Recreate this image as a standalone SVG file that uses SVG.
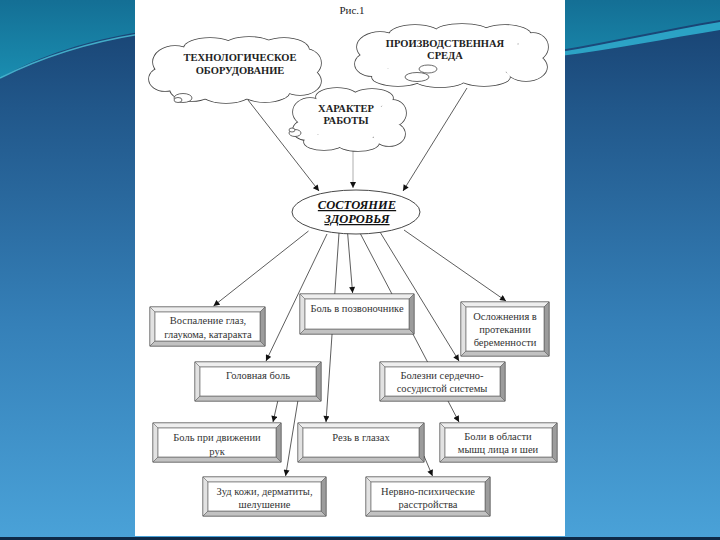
<svg xmlns="http://www.w3.org/2000/svg" xmlns:xlink="http://www.w3.org/1999/xlink" width="720" height="540" viewBox="0 0 720 540">
<defs>
<linearGradient id="bg" x1="0" y1="0" x2="0" y2="1">
<stop offset="0" stop-color="#173f6e"/>
<stop offset="0.2" stop-color="#21578a"/>
<stop offset="0.6" stop-color="#3580b8"/>
<stop offset="1" stop-color="#4aa2d8"/>
</linearGradient>
<linearGradient id="teal" x1="0" y1="0" x2="0" y2="1">
<stop offset="0" stop-color="#146f95"/>
<stop offset="1" stop-color="#1a8db0"/>
</linearGradient>
<marker id="ah" viewBox="0 0 10 10" refX="10" refY="5" markerWidth="7" markerHeight="6" orient="auto" markerUnits="userSpaceOnUse">
<path d="M0,0 L10,5 L0,10 z" fill="#111"/>
</marker>
<g id="c1">
<ellipse cx="175" cy="62" rx="22" ry="16"/>
<ellipse cx="165" cy="79" rx="16" ry="12"/>
<ellipse cx="192" cy="89" rx="22" ry="12"/>
<ellipse cx="226" cy="93" rx="25" ry="10"/>
<ellipse cx="265" cy="91" rx="25" ry="11"/>
<ellipse cx="300" cy="81" rx="21" ry="14"/>
<ellipse cx="305" cy="63" rx="16" ry="14"/>
<ellipse cx="284" cy="50" rx="25" ry="12"/>
<ellipse cx="249" cy="46" rx="25" ry="9"/>
<ellipse cx="210" cy="48" rx="26" ry="10"/>
<ellipse cx="236" cy="70" rx="70" ry="24"/>
</g>
<g id="c2">
<ellipse cx="380" cy="47" rx="23" ry="15"/>
<ellipse cx="372" cy="64" rx="17" ry="12"/>
<ellipse cx="398" cy="77" rx="26" ry="9"/>
<ellipse cx="440" cy="79" rx="26" ry="8"/>
<ellipse cx="484" cy="77" rx="26" ry="9"/>
<ellipse cx="526" cy="67" rx="21" ry="14"/>
<ellipse cx="533" cy="47" rx="15" ry="14"/>
<ellipse cx="505" cy="35" rx="26" ry="10"/>
<ellipse cx="462" cy="31" rx="26" ry="7"/>
<ellipse cx="415" cy="35" rx="26" ry="10"/>
<ellipse cx="452" cy="56" rx="78" ry="22"/>
</g>
<g id="c3">
<ellipse cx="310" cy="112" rx="17" ry="14"/>
<ellipse cx="306" cy="130" rx="13" ry="10"/>
<ellipse cx="324" cy="142" rx="20" ry="8"/>
<ellipse cx="358" cy="143" rx="21" ry="8"/>
<ellipse cx="389" cy="134" rx="16" ry="12"/>
<ellipse cx="393" cy="113" rx="13" ry="13"/>
<ellipse cx="372" cy="98" rx="21" ry="9"/>
<ellipse cx="337" cy="97" rx="21" ry="9"/>
<ellipse cx="349" cy="120" rx="44" ry="20"/>
</g>
</defs>
<style>
.cl{font-family:"Liberation Serif",serif;font-weight:bold;font-size:10.5px;text-anchor:middle;fill:#222}
.bt{font-family:"Liberation Serif",serif;font-size:10.5px;text-anchor:middle;fill:#333}
.conn line{stroke:#333;stroke-width:0.8;marker-end:url(#ah)}
.bx{fill:#d0d0d0;stroke:#333;stroke-width:0.8}
.tp{fill:#eeeeee;stroke:#666;stroke-width:0.5}
.lf{fill:#e2e2e2;stroke:#666;stroke-width:0.5}
.rt{fill:#9c9c9c;stroke:#555;stroke-width:0.5}
.bm{fill:#c2c2c2;stroke:#555;stroke-width:0.5}
.in{fill:#fff;stroke:#555;stroke-width:0.6}
.puff{fill:#fff;stroke:#444;stroke-width:0.8}
</style>

<g id="background">
<rect x="0" y="0" width="720" height="540" fill="url(#bg)"/>
<path d="M0,0 H720 V20 C670,28 610,42 560,50 L140,32 C90,40 40,55 0,78 Z" fill="url(#teal)"/>
<path d="M0,78 C40,58 90,42 140,34" fill="none" stroke="#4cc6dc" stroke-width="1.5" opacity="0.8"/>
<path d="M560,52 C610,44 670,30 720,22 L720,30 C670,38 610,50 560,56 Z" fill="#2fb3d2" opacity="0.85"/>
<rect x="0" y="537" width="720" height="3" fill="#0e2a48"/>
<rect x="135" y="0" width="430" height="536" fill="#ffffff"/>
</g>

<text x="352" y="14" style="font-family:'Liberation Serif',serif;font-size:11px;text-anchor:middle;fill:#222">Рис.1</text>

<g id="connectors" class="conn">
<line x1="248" y1="100" x2="319" y2="191"/>
<line x1="467" y1="88" x2="403" y2="191"/>
<line x1="353" y1="151" x2="353" y2="188" style="stroke:#999"/>
<line x1="308.5" y1="231" x2="213.5" y2="306"/>
<line x1="327" y1="234" x2="266" y2="361"/>
<line x1="339" y1="233" x2="326" y2="422"/>
<line x1="347.6" y1="233" x2="352.6" y2="293"/>
<line x1="360" y1="233" x2="459" y2="422"/>
<line x1="380" y1="232" x2="459" y2="361"/>
<line x1="404" y1="230" x2="506" y2="301"/>
<line x1="278" y1="400" x2="273" y2="422"/>
<line x1="298" y1="400" x2="285.6" y2="476"/>
<line x1="424" y1="456" x2="432.5" y2="476"/>
</g>

<g id="n-tech">
<use xlink:href="#c1" fill="#fff" stroke="#444" stroke-width="1.6"/>
<use xlink:href="#c1" fill="#fff" stroke="none"/>
<ellipse class="puff" cx="183" cy="98" rx="9" ry="4.5"/>
<ellipse class="puff" cx="178" cy="100" rx="4" ry="2.5"/>
<text class="cl" x="240" y="61">ТЕХНОЛОГИЧЕСКОЕ</text>
<text class="cl" x="240" y="74">ОБОРУДОВАНИЕ</text>
</g>

<g id="n-sreda">
<use xlink:href="#c2" fill="#fff" stroke="#444" stroke-width="1.6"/>
<use xlink:href="#c2" fill="#fff" stroke="none"/>
<ellipse class="puff" cx="428" cy="69" rx="9" ry="4"/>
<ellipse class="puff" cx="417" cy="77" rx="12" ry="4.5"/>
<text class="cl" x="445" y="47">ПРОИЗВОДСТВЕННАЯ</text>
<text class="cl" x="445" y="59">СРЕДА</text>
</g>

<g id="n-harakter">
<use xlink:href="#c3" fill="#fff" stroke="#444" stroke-width="1.6"/>
<use xlink:href="#c3" fill="#fff" stroke="none"/>
<ellipse class="puff" cx="295" cy="133" rx="6" ry="3.5"/>
<ellipse class="puff" cx="292" cy="130" rx="3" ry="2"/>
<text class="cl" x="346" y="112">ХАРАКТЕР</text>
<text class="cl" x="346" y="124">РАБОТЫ</text>
</g>

<g id="n-zdorovie">
<ellipse cx="356" cy="212" rx="64" ry="22" fill="#fff" stroke="#333" stroke-width="0.9"/>
<text x="357" y="209" style="font-family:'Liberation Serif',serif;font-weight:bold;font-style:italic;font-size:12.5px;text-anchor:middle;fill:#111;text-decoration:underline">СОСТОЯНИЕ</text>
<text x="357" y="223" style="font-family:'Liberation Serif',serif;font-weight:bold;font-style:italic;font-size:12.5px;text-anchor:middle;fill:#111;text-decoration:underline">ЗДОРОВЬЯ</text>
</g>

<g id="n-vospalenie" transform="translate(150,307)">
<rect class="bx" width="115" height="39"/>
<polygon class="tp" points="0,0 115,0 110,5 5,5"/>
<polygon class="lf" points="0,0 5,5 5,34 0,39"/>
<polygon class="rt" points="115,0 115,39 110,34 110,5"/>
<polygon class="bm" points="0,39 115,39 110,34 5,34"/>
<rect class="in" x="5" y="5" width="105" height="29"/>
<text class="bt" x="58" y="17">Воспаление глаз,</text>
<text class="bt" x="58" y="31">глаукома, катаракта</text>
</g>

<g id="n-pozvonochnik" transform="translate(300,294)">
<rect class="bx" width="114" height="40"/>
<polygon class="tp" points="0,0 114,0 109,5 5,5"/>
<polygon class="lf" points="0,0 5,5 5,35 0,40"/>
<polygon class="rt" points="114,0 114,40 109,35 109,5"/>
<polygon class="bm" points="0,40 114,40 109,35 5,35"/>
<rect class="in" x="5" y="5" width="104" height="30"/>
<text class="bt" x="57" y="17.5">Боль в позвоночнике</text>
</g>

<g id="n-oslozhnenia" transform="translate(461,302)">
<rect class="bx" width="88" height="54"/>
<polygon class="tp" points="0,0 88,0 83,5 5,5"/>
<polygon class="lf" points="0,0 5,5 5,49 0,54"/>
<polygon class="rt" points="88,0 88,54 83,49 83,5"/>
<polygon class="bm" points="0,54 88,54 83,49 5,49"/>
<rect class="in" x="5" y="5" width="78" height="44"/>
<text class="bt" x="44" y="18">Осложнения в</text>
<text class="bt" x="44" y="31">протекании</text>
<text class="bt" x="44" y="43.5">беременности</text>
</g>

<g id="n-golovnaya" transform="translate(195,362)">
<rect class="bx" width="126" height="39"/>
<polygon class="tp" points="0,0 126,0 121,5 5,5"/>
<polygon class="lf" points="0,0 5,5 5,34 0,39"/>
<polygon class="rt" points="126,0 126,39 121,34 121,5"/>
<polygon class="bm" points="0,39 126,39 121,34 5,34"/>
<rect class="in" x="5" y="5" width="116" height="29"/>
<text class="bt" x="63" y="16.5">Головная боль</text>
</g>

<g id="n-bolezni" transform="translate(380,362)">
<rect class="bx" width="125" height="39"/>
<polygon class="tp" points="0,0 125,0 120,5 5,5"/>
<polygon class="lf" points="0,0 5,5 5,34 0,39"/>
<polygon class="rt" points="125,0 125,39 120,34 120,5"/>
<polygon class="bm" points="0,39 125,39 120,34 5,34"/>
<rect class="in" x="5" y="5" width="115" height="29"/>
<text class="bt" x="62" y="16.5">Болезни сердечно-</text>
<text class="bt" x="62" y="30">сосудистой системы</text>
</g>

<g id="n-ruk" transform="translate(153,423)">
<rect class="bx" width="128" height="39"/>
<polygon class="tp" points="0,0 128,0 123,5 5,5"/>
<polygon class="lf" points="0,0 5,5 5,34 0,39"/>
<polygon class="rt" points="128,0 128,39 123,34 123,5"/>
<polygon class="bm" points="0,39 128,39 123,34 5,34"/>
<rect class="in" x="5" y="5" width="118" height="29"/>
<text class="bt" x="64" y="18">Боль при движении</text>
<text class="bt" x="64" y="31.5">рук</text>
</g>

<g id="n-rez" transform="translate(298,423)">
<rect class="bx" width="126" height="39"/>
<polygon class="tp" points="0,0 126,0 121,5 5,5"/>
<polygon class="lf" points="0,0 5,5 5,34 0,39"/>
<polygon class="rt" points="126,0 126,39 121,34 121,5"/>
<polygon class="bm" points="0,39 126,39 121,34 5,34"/>
<rect class="in" x="5" y="5" width="116" height="29"/>
<text class="bt" x="63" y="18">Резь в глазах</text>
</g>

<g id="n-myshc" transform="translate(440,423)">
<rect class="bx" width="117" height="39"/>
<polygon class="tp" points="0,0 117,0 112,5 5,5"/>
<polygon class="lf" points="0,0 5,5 5,34 0,39"/>
<polygon class="rt" points="117,0 117,39 112,34 112,5"/>
<polygon class="bm" points="0,39 117,39 112,34 5,34"/>
<rect class="in" x="5" y="5" width="107" height="29"/>
<text class="bt" x="58" y="17">Боли в области</text>
<text class="bt" x="58" y="30">мышц лица и шеи</text>
</g>

<g id="n-zud" transform="translate(203,477)">
<rect class="bx" width="123" height="39"/>
<polygon class="tp" points="0,0 123,0 118,5 5,5"/>
<polygon class="lf" points="0,0 5,5 5,34 0,39"/>
<polygon class="rt" points="123,0 123,39 118,34 118,5"/>
<polygon class="bm" points="0,39 123,39 118,34 5,34"/>
<rect class="in" x="5" y="5" width="113" height="29"/>
<text class="bt" x="61.5" y="18">Зуд кожи, дерматиты,</text>
<text class="bt" x="61.5" y="31">шелушение</text>
</g>

<g id="n-nervno" transform="translate(366,477)">
<rect class="bx" width="124" height="39"/>
<polygon class="tp" points="0,0 124,0 119,5 5,5"/>
<polygon class="lf" points="0,0 5,5 5,34 0,39"/>
<polygon class="rt" points="124,0 124,39 119,34 119,5"/>
<polygon class="bm" points="0,39 124,39 119,34 5,34"/>
<rect class="in" x="5" y="5" width="114" height="29"/>
<text class="bt" x="62" y="18">Нервно-психические</text>
<text class="bt" x="62" y="31">расстройства</text>
</g>
</svg>
